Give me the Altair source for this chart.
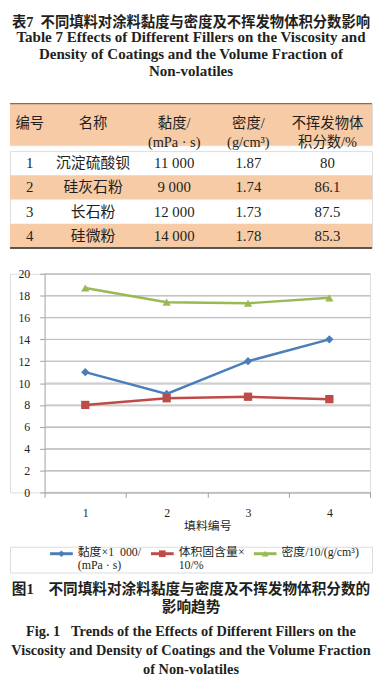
import altair as alt
import pandas as pd

# ---------------- data ----------------
filler_no = ["1", "2", "3", "4"]
filler_names = ["沉淀硫酸钡", "硅灰石粉", "长石粉", "硅微粉"]
viscosity_mpas = [11000, 9000, 12000, 14000]
density_gcm3 = [1.87, 1.74, 1.73, 1.78]
nonvolatile_pct = [80, 86.1, 87.5, 85.3]
header_labels = ["编号", "名称", "黏度/\n(mPa · s)", "密度/\n(g/cm³)", "不挥发物体\n积分数/%"]

series_names = ["黏度×1 000/(mPa · s)", "体积固含量×10/%", "密度/10/(g/cm³)"]
legend_labels = ["黏度×1\u2002000/\n(mPa · s)", "体积固含量×\n10/%", "密度/10/(g/cm³)"]
chart_viscosity = [11, 9, 12, 14]
chart_solids = [8.0, 8.61, 8.75, 8.53]
chart_density = [18.7, 17.4, 17.3, 17.8]
y_ticks = [0, 2, 4, 6, 8, 10, 12, 14, 16, 18, 20]

table_title = "表7\u2002不同填料对涂料黏度与密度及不挥发物体积分数影响"
table_subtitle = [
    "Table 7 Effects of Different Fillers on the Viscosity and",
    "Density of Coatings and the Volume Fraction of",
    "Non-volatiles",
]
fig_title = ["图1\u3000不同填料对涂料黏度与密度及不挥发物体积分数的", "影响趋势"]
fig_subtitle = [
    "Fig. 1\u00a0\u00a0\u00a0Trends of the Effects of Different Fillers on the",
    "Viscosity and Density of Coatings and the Volume Fraction",
    "of Non-volatiles",
]

# ---------------- styles ----------------
FONT = "Liberation Serif, Noto Sans CJK SC"
TEXT = "#231f20"
PEACH = "#f7cba6"
W = 366
COL_X = [20, 84, 166, 241, 321]       # column centres (layout)
LEG_X = [52, 154, 258]                # legend entry centres (layout)
PLOT_X = [35, 364]                    # plot area inside the line chart (layout)
colors = ["#4a7ebb", "#be4b48", "#98b954"]
shapes = ["diamond", "square", "triangle-up"]
GRID = "#bfbfbf"
AXIS = "#a0a0a0"


def fmt_thousands(v):
    return f"{v:,}".replace(",", " ")


col_scale = alt.Scale(domain=list(range(5)), range=COL_X)

# ---------------- table header ----------------
head_df = pd.DataFrame({"row": ["h"] * 5, "col": list(range(5)), "text": header_labels})
tx = alt.X("col:Q", scale=col_scale, axis=None)
hy = alt.Y("row:O", scale=alt.Scale(paddingInner=0, paddingOuter=0), axis=None)

head_bg = (
    alt.Chart(head_df)
    .transform_filter("datum.col == 0")
    .mark_rect(color=PEACH)
    .encode(y=hy)
)
head_txt = alt.Chart(head_df).mark_text(
    font=FONT, fontSize=14.5, color=TEXT, lineBreak="\n", lineHeight=19, baseline="middle"
).encode(x=tx, y=hy, text="text:N")
head_rule = (
    alt.Chart(head_df)
    .transform_filter("datum.col == 0")
    .mark_rule(color="#7d7068", strokeWidth=1.5)
    .encode(y=alt.value(0))
)

header_chart = alt.layer(head_bg, head_txt, head_rule).properties(
    width=W,
    height=42,
    title=alt.TitleParams(
        text=table_title,
        subtitle=table_subtitle,
        anchor="middle",
        font=FONT,
        fontSize=14.5,
        fontWeight="bold",
        lineHeight=17,
        color=TEXT,
        subtitleFont="Liberation Serif",
        subtitleFontSize=15.2,
        subtitleFontWeight="bold",
        subtitleLineHeight=17,
        subtitleColor=TEXT,
        subtitlePadding=0,
        offset=23,
    ),
)

# ---------------- table body ----------------
rows = []
for i in range(4):
    cells = [
        filler_no[i],
        filler_names[i],
        fmt_thousands(viscosity_mpas[i]),
        f"{density_gcm3[i]:.2f}",
        f"{nonvolatile_pct[i]:g}",
    ]
    for c, t in enumerate(cells):
        rows.append({"row": filler_no[i], "col": c, "text": t, "shade": i % 2 == 1})
body_df = pd.DataFrame(rows)
by = alt.Y("row:O", scale=alt.Scale(domain=filler_no, paddingInner=0, paddingOuter=0), axis=None)

body_bg = (
    alt.Chart(body_df)
    .transform_filter("datum.shade && datum.col == 0")
    .mark_rect(color=PEACH)
    .encode(y=by)
)
body_txt = alt.Chart(body_df).mark_text(
    font=FONT, fontSize=15, color=TEXT, baseline="middle"
).encode(x=tx, y=by, text="text:N")
body_rule = (
    alt.Chart(body_df)
    .transform_filter("datum.col == 0 && datum.row == '4'")
    .mark_rule(color="#2b2b2b", strokeWidth=1.5)
    .encode(y=alt.value(98))
)

body_chart = alt.layer(body_bg, body_txt, body_rule).properties(width=W, height=98)

# ---------------- line chart ----------------
line_df = pd.DataFrame(
    {
        "no": filler_no * 3,
        "series": [s for s in series_names for _ in filler_no],
        "value": chart_viscosity + chart_solids + chart_density,
    }
)
grid_df = pd.DataFrame({"value": y_ticks, "g0": 0, "g1": 1})
color_scale = alt.Scale(domain=series_names, range=colors)
shape_scale = alt.Scale(domain=series_names, range=shapes)

lx = alt.X(
    "no:O",
    scale=alt.Scale(paddingInner=0, paddingOuter=0, range=PLOT_X),
    axis=alt.Axis(
        orient="bottom",
        labelAngle=0,
        tickBand="extent",
        tickSize=5,
        tickColor=AXIS,
        domainColor=AXIS,
        labelFont=FONT,
        labelFontSize=12,
        labelColor=TEXT,
        labelPadding=10,
        title="填料编号",
        titleFont=FONT,
        titleFontSize=12,
        titleFontWeight="normal",
        titleColor=TEXT,
        titlePadding=3,
        titleX=(PLOT_X[0] + PLOT_X[1]) / 2,
    ),
)
y_scale = alt.Scale(domain=[0, 20], nice=False)
ly = alt.Y(
    "value:Q",
    scale=y_scale,
    axis=alt.Axis(
        values=y_ticks,
        grid=True,
        gridColor=GRID,
        gridWidth=1,
        offset=-PLOT_X[0],
        tickSize=5,
        tickColor=AXIS,
        domainColor=AXIS,
        labelFont=FONT,
        labelFontSize=12,
        labelColor=TEXT,
        labelPadding=10,
        labelOverlap=False,
        title=None,
    ),
)

# horizontal gridlines spanning the plot area (own x scale over the plot range)
grid = alt.Chart(grid_df).mark_rule(color=GRID, strokeWidth=1).encode(
    y=ly,
    x=alt.X("g0:Q", scale=alt.Scale(domain=[0, 1], range=PLOT_X), axis=None),
    x2="g1:Q",
)
lines = alt.Chart(line_df).mark_line(strokeWidth=2.5).encode(
    x=lx, y=ly, color=alt.Color("series:N", scale=color_scale, legend=None), detail="series:N"
)
points = alt.Chart(line_df).mark_point(filled=True, opacity=1, size=70).encode(
    x=lx,
    y=ly,
    color=alt.Color("series:N", scale=color_scale, legend=None),
    shape=alt.Shape("series:N", scale=shape_scale, legend=None),
)
line_chart = (
    alt.layer(grid, alt.layer(lines, points))
    .resolve_scale(x="independent")
    .properties(width=364, height=221)
)

# ---------------- legend + caption ----------------
legend_df = pd.DataFrame({"idx": [0, 1, 2], "series": series_names, "label": legend_labels})
gx = alt.X("idx:Q", scale=alt.Scale(domain=[0, 1, 2], range=LEG_X), axis=None)
seg = alt.Chart(legend_df).mark_point(
    shape="stroke", size=529, strokeWidth=3, filled=False, opacity=1
).encode(x=gx, y=alt.value(7), color=alt.Color("series:N", scale=color_scale, legend=None))
sym = alt.Chart(legend_df).mark_point(filled=True, opacity=1, size=45).encode(
    x=gx,
    y=alt.value(7),
    color=alt.Color("series:N", scale=color_scale, legend=None),
    shape=alt.Shape("series:N", scale=shape_scale, legend=None),
)
gtxt = alt.Chart(legend_df).mark_text(
    align="left", baseline="top", dx=16.5, lineBreak="\n", lineHeight=13,
    font=FONT, fontSize=12, color=TEXT,
).encode(x=gx, y=alt.value(0), text="label:N")

legend_chart = alt.layer(seg, sym, gtxt).properties(
    width=W,
    height=26,
    title=alt.TitleParams(
        text=fig_title,
        subtitle=fig_subtitle,
        orient="bottom",
        anchor="middle",
        font=FONT,
        fontSize=14.8,
        fontWeight="bold",
        lineHeight=18,
        color=TEXT,
        subtitleFont="Liberation Serif",
        subtitleFontSize=14.5,
        subtitleFontWeight="bold",
        subtitleLineHeight=19.5,
        subtitleColor=TEXT,
        subtitlePadding=10,
        offset=10,
    ),
)

top_block = alt.vconcat(header_chart, body_chart, spacing=0)
mid_block = alt.vconcat(line_chart, legend_chart, spacing=12)
chart = (
    alt.vconcat(
        top_block, mid_block, spacing=17,
        padding={"left": 0, "top": 3, "right": 0, "bottom": 0},
    )
    .configure_view(stroke=None)
    .configure(background="white")
)

chart.save("out.html", embed_options={"renderer": "svg", "actions": False})
